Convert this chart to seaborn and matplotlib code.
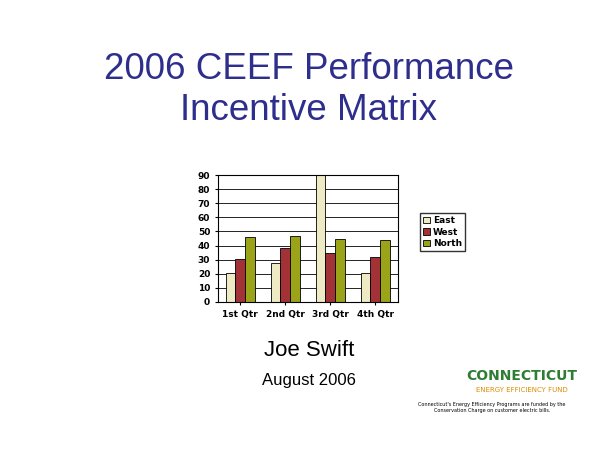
import matplotlib
matplotlib.use("Agg")
import matplotlib.pyplot as plt
import seaborn as sns
import pandas as pd

quarters = ["1st Qtr", "2nd Qtr", "3rd Qtr", "4th Qtr"]
east = [20.4, 27.4, 90, 20.4]
west = [30.6, 38.6, 34.6, 31.6]
north = [45.9, 46.9, 45, 43.9]
series = ["East", "West", "North"]
colors = ["#EEEBC4", "#A33236", "#9BA419"]

df = pd.DataFrame({"Qtr": quarters * 3,
                   "Series": ["East"] * 4 + ["West"] * 4 + ["North"] * 4,
                   "Value": east + west + north})

fig = plt.figure(figsize=(6, 4.5), dpi=100)
fig.text(0.515, 0.845, "2006 CEEF Performance", ha="center", va="center", fontsize=26.5, color="#2E2E8C", family="Liberation Sans")
fig.text(0.515, 0.755, "Incentive Matrix", ha="center", va="center", fontsize=26.5, color="#2E2E8C", family="Liberation Sans")

ax = fig.add_axes([0.363, 0.329, 0.3, 0.282])
sns.barplot(data=df, x="Qtr", y="Value", hue="Series", palette=colors, ax=ax,
            edgecolor="black", linewidth=0.6, width=0.65, saturation=1)
ax.set_ylim(0, 90)
ax.set_yticks(range(0, 91, 10))
ax.yaxis.grid(True, color="black", linewidth=0.6)
ax.set_axisbelow(True)
ax.set_xlabel("")
ax.set_ylabel("")
ax.tick_params(labelsize=6.5, length=2)
for t in ax.get_xticklabels() + ax.get_yticklabels():
    t.set_fontweight("bold")
leg = ax.legend(loc="center left", bbox_to_anchor=(1.1, 0.55), fontsize=6.5, frameon=True,
                fancybox=False, edgecolor="black", handlelength=0.8, handletextpad=0.3,
                borderpad=0.3, labelspacing=0.3)
for t in leg.get_texts():
    t.set_fontweight("bold")

fig.text(0.515, 0.21, "Joe Swift", ha="center", fontsize=16, family="Liberation Sans")
fig.text(0.515, 0.145, "August 2006", ha="center", fontsize=12, family="Liberation Sans")
fig.text(0.87, 0.155, "CONNECTICUT", ha="center", fontsize=10, fontweight="bold", color="#2E7D32")
fig.text(0.87, 0.13, "ENERGY EFFICIENCY FUND", ha="center", fontsize=5, color="#E08A00")
fig.text(0.82, 0.085, "Connecticut's Energy Efficiency Programs are funded by the\nConservation Charge on customer electric bills.",
         ha="center", fontsize=3.5)
fig.savefig("out.png", dpi=100)
